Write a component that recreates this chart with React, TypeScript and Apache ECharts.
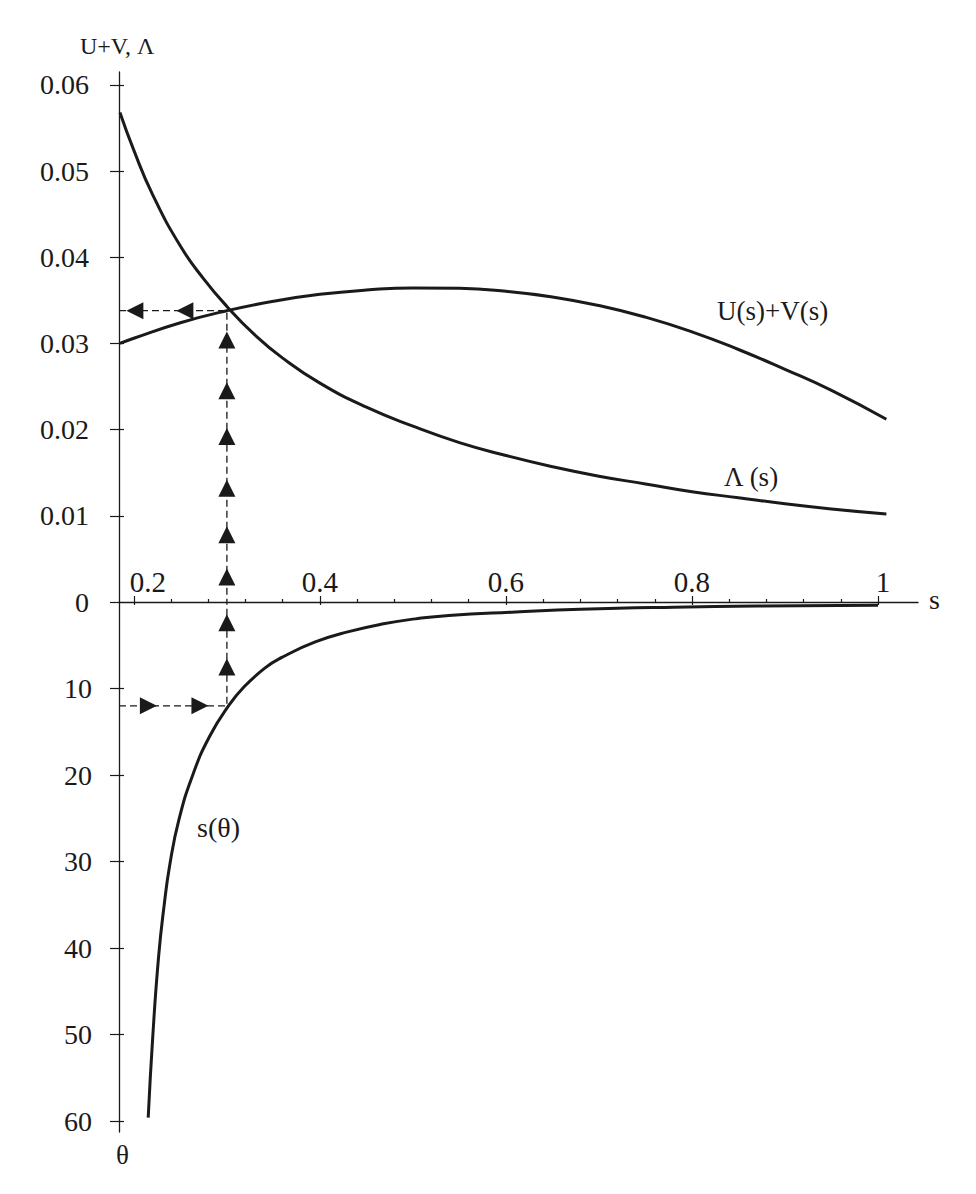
import React, { useEffect, useRef } from "react";
import * as echarts from "echarts";

// s-axis extent and ticks
const sMin = 0.184;
const sMax = 1.043;
const sMajorTicks = [0.2, 0.4, 0.6, 0.8, 1];
const sMinorTicks = [
  0.24, 0.28, 0.32, 0.36, 0.44, 0.48, 0.52, 0.56,
  0.64, 0.68, 0.72, 0.76, 0.84, 0.88, 0.92, 0.96,
];

// upper panel: U+V and Λ
const valueMax = 0.0615;
const valueTicks = [0, 0.01, 0.02, 0.03, 0.04, 0.05, 0.06];

// lower panel: θ (grows downward)
const thetaMax = 61.27;
const thetaTicks = [10, 20, 30, 40, 50, 60];

// Λ(s) as [s, Λ]
const lambdaCurve: number[][] = [
  [0.185, 0.0568], [0.2, 0.0524], [0.22, 0.0473], [0.25, 0.0413],
  [0.275, 0.0375], [0.3, 0.0343], [0.33, 0.031], [0.36, 0.0283],
  [0.4, 0.0254], [0.45, 0.0226], [0.5, 0.0204], [0.55, 0.0185],
  [0.6, 0.017], [0.65, 0.0157], [0.7, 0.0146], [0.75, 0.0137],
  [0.8, 0.0128], [0.85, 0.0121], [0.9, 0.0114], [0.95, 0.0108],
  [1.009, 0.0102],
];

// U(s)+V(s) as [s, U+V]
const uvCurve: number[][] = [
  [0.185, 0.03], [0.2, 0.0306], [0.25, 0.0324], [0.3, 0.0338],
  [0.35, 0.0349], [0.4, 0.0357], [0.45, 0.0362], [0.5, 0.03645],
  [0.55, 0.0364], [0.6, 0.03605], [0.65, 0.0354], [0.7, 0.0344],
  [0.75, 0.03305], [0.8, 0.03135], [0.85, 0.0293], [0.9, 0.027],
  [0.95, 0.02455], [1.009, 0.0212],
];

// s(θ) as [s, θ]
const sThetaCurve: number[][] = [
  [0.2154, 59.6], [0.2203, 50.24], [0.2265, 41.08], [0.2325, 35.1],
  [0.2387, 30.32], [0.2485, 25.14], [0.2634, 19.96], [0.2812, 15.58],
  [0.3019, 11.99], [0.3185, 9.8], [0.3411, 7.61], [0.3591, 6.41],
  [0.395, 4.62], [0.4309, 3.43], [0.4668, 2.55], [0.5027, 1.95],
  [0.5386, 1.55], [0.6104, 1.16], [0.68, 0.85], [0.78, 0.6],
  [0.87, 0.47], [1.0, 0.37],
];

// construction: θ → s(θ) → U+V
const guideS = 0.3;
const guideTheta = 12;
const guideValue = 0.0338;
const leftArrowS = [0.2011, 0.2548];
const upArrowValues = [0.0304, 0.0245, 0.0192, 0.0132, 0.0078, 0.0029];
const upArrowThetas = [2.4, 7.5];
const rightArrowS = [0.2156, 0.271];

const INK = "#1a1a1a";
const FONT = "'Liberation Serif', 'Times New Roman', serif";

export default function App() {
  const ref = useRef<HTMLDivElement>(null);

  useEffect(() => {
    if (!ref.current) return;
    const chart = echarts.init(ref.current, undefined, { renderer: "svg" });

    const axisLine = { show: true, onZero: false, lineStyle: { color: INK, width: 1.3 } };
    const noLine = { show: false, onZero: false };
    const tickStyle = { color: INK, width: 1.2 };
    const yLabel = { color: INK, fontFamily: FONT, fontSize: 28 };
    const dashed = { color: INK, width: 1.3, type: [7, 4] as number[] };

    const arrow = (xi: number, yi: number, data: number[][], rotate: number) => ({
      type: "scatter",
      xAxisIndex: xi,
      yAxisIndex: yi,
      symbol: "triangle",
      symbolSize: [17, 17],
      symbolRotate: rotate,
      itemStyle: { color: INK, opacity: 1 },
      data,
      z: 5,
      silent: true,
    });

    const curve = (name: string, xi: number, yi: number, data: number[][]) => ({
      name,
      type: "line",
      xAxisIndex: xi,
      yAxisIndex: yi,
      data,
      smooth: 0.5,
      symbol: "none",
      lineStyle: { color: INK, width: 3 },
      z: 3,
    });

    chart.setOption({
      animation: false,
      backgroundColor: "#ffffff",
      grid: [
        { left: 119, top: 72, width: 799, height: 530 },
        { left: 119, top: 602, width: 799, height: 530 },
      ],
      xAxis: [
        {
          type: "value",
          gridIndex: 0,
          position: "bottom",
          min: sMin,
          max: sMax,
          axisLine,
          splitLine: { show: false },
          axisTick: {
            show: true,
            inside: true,
            length: 6,
            lineStyle: tickStyle,
            customValues: sMajorTicks,
          },
          axisLabel: {
            show: true,
            inside: true,
            margin: 6,
            customValues: sMajorTicks,
            formatter: (v: number) =>
              v === 0.2 ? "{a|0.2}" : v === 1 ? "{b|1}" : "{c|" + String(v) + "}",
            rich: {
              a: { fontFamily: FONT, fontSize: 29, color: INK, padding: [0, 0, 0, 28] },
              b: { fontFamily: FONT, fontSize: 29, color: INK, padding: [0, 0, 0, 10] },
              c: { fontFamily: FONT, fontSize: 29, color: INK },
            },
          },
        },
        {
          type: "value",
          gridIndex: 1,
          position: "top",
          min: sMin,
          max: sMax,
          axisLine: noLine,
          splitLine: { show: false },
          axisTick: {
            show: true,
            inside: false,
            length: 3,
            lineStyle: tickStyle,
            customValues: sMinorTicks,
          },
          axisLabel: { show: false },
        },
        {
          type: "value",
          gridIndex: 1,
          position: "top",
          min: sMin,
          max: sMax,
          axisLine: noLine,
          splitLine: { show: false },
          axisTick: {
            show: true,
            inside: true,
            length: 3,
            lineStyle: tickStyle,
            customValues: sMajorTicks,
          },
          axisLabel: { show: false },
        },
      ],
      yAxis: [
        {
          type: "value",
          gridIndex: 0,
          position: "left",
          min: 0,
          max: valueMax,
          axisLine,
          splitLine: { show: false },
          axisTick: {
            show: true,
            length: 9,
            lineStyle: tickStyle,
            customValues: valueTicks,
          },
          axisLabel: {
            ...yLabel,
            margin: 30,
            customValues: valueTicks,
            formatter: (v: number) => (v === 0 ? "0" : v.toFixed(2)),
          },
        },
        {
          type: "value",
          gridIndex: 0,
          position: "left",
          min: 0,
          max: valueMax,
          axisLine: noLine,
          splitLine: { show: false },
          axisTick: {
            show: true,
            inside: true,
            length: 5,
            lineStyle: tickStyle,
            customValues: valueTicks.slice(1),
          },
          axisLabel: { show: false },
        },
        {
          type: "value",
          gridIndex: 1,
          position: "left",
          inverse: true,
          min: 0,
          max: thetaMax,
          axisLine,
          splitLine: { show: false },
          axisTick: {
            show: true,
            length: 9,
            lineStyle: tickStyle,
            customValues: thetaTicks,
          },
          axisLabel: {
            ...yLabel,
            margin: 27,
            customValues: thetaTicks,
            formatter: (v: number) => String(v),
          },
        },
        {
          type: "value",
          gridIndex: 1,
          position: "left",
          inverse: true,
          min: 0,
          max: thetaMax,
          axisLine: noLine,
          splitLine: { show: false },
          axisTick: {
            show: true,
            inside: true,
            length: 5,
            lineStyle: tickStyle,
            customValues: thetaTicks,
          },
          axisLabel: { show: false },
        },
      ],
      series: [
        curve("Λ(s)", 0, 0, lambdaCurve),
        curve("U(s)+V(s)", 0, 0, uvCurve),
        curve("s(θ)", 1, 2, sThetaCurve),
        {
          type: "line",
          xAxisIndex: 0,
          yAxisIndex: 0,
          data: [
            [sMin, guideValue],
            [guideS, guideValue],
            [guideS, 0],
          ],
          symbol: "none",
          lineStyle: dashed,
          z: 2,
        },
        {
          type: "line",
          xAxisIndex: 1,
          yAxisIndex: 2,
          data: [
            [sMin, guideTheta],
            [guideS, guideTheta],
            [guideS, 0],
          ],
          symbol: "none",
          lineStyle: dashed,
          z: 2,
        },
        arrow(0, 0, leftArrowS.map((s) => [s, guideValue]), 90),
        arrow(0, 0, upArrowValues.map((v) => [guideS, v]), 0),
        arrow(1, 2, upArrowThetas.map((t) => [guideS, t]), 0),
        arrow(1, 2, rightArrowS.map((s) => [s, guideTheta]), -90),
      ],
      graphic: [
        {
          type: "text",
          left: 80,
          top: 34,
          style: { text: "U+V, Λ", font: `24px ${FONT}`, fill: INK },
        },
        {
          type: "text",
          left: 929,
          top: 585,
          style: { text: "s", font: `28px ${FONT}`, fill: INK },
        },
        {
          type: "text",
          left: 116,
          top: 1141,
          style: { text: "θ", font: `27px ${FONT}`, fill: INK },
        },
        {
          type: "text",
          left: 717,
          top: 297,
          style: { text: "U(s)+V(s)", font: `27px ${FONT}`, fill: INK },
        },
        {
          type: "text",
          left: 724,
          top: 463,
          style: { text: "Λ (s)", font: `27px ${FONT}`, fill: INK },
        },
        {
          type: "text",
          left: 197,
          top: 813,
          style: { text: "s(θ)", font: `28px ${FONT}`, fill: INK },
        },
      ],
    });

    return () => chart.dispose();
  }, []);

  return (
    <div
      ref={ref}
      style={{ position: "absolute", left: 0, top: 0, width: 976, height: 1194 }}
    />
  );
}
